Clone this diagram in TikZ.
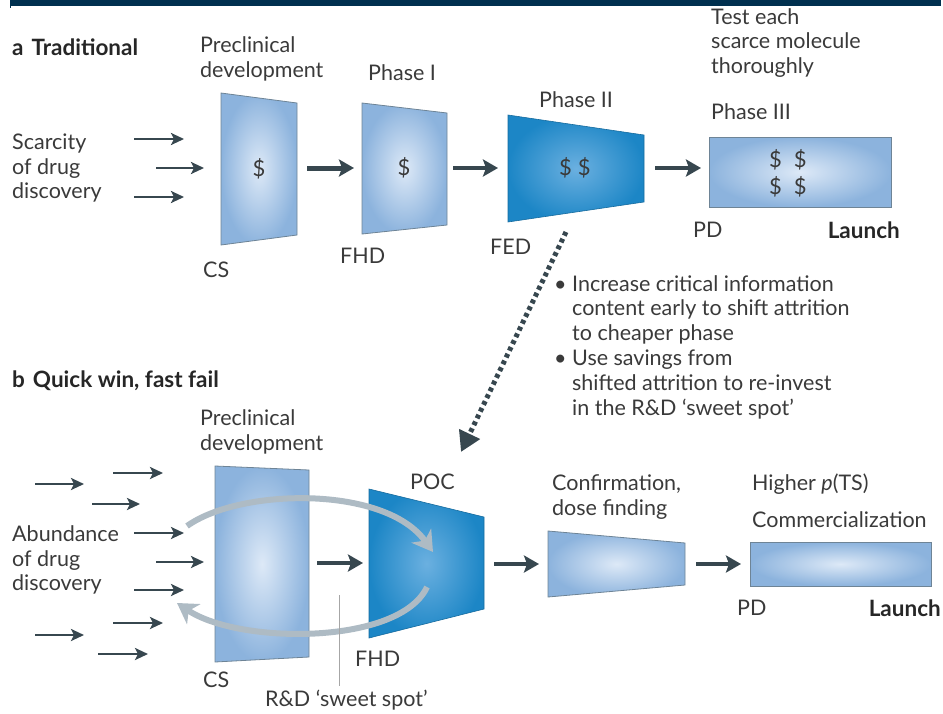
\documentclass[tikz,border=0pt]{standalone}
\usepackage{fontspec}
\setmainfont{Lato}
\usetikzlibrary{arrows.meta}
\definecolor{navy}{HTML}{00304F}
\definecolor{arr}{HTML}{37474F}
\definecolor{txt}{HTML}{3A3A3A}
\definecolor{lbIn}{HTML}{DDE9F7}
\definecolor{lbOut}{HTML}{8CB3DD}
\definecolor{dbIn}{HTML}{6BB0E0}
\definecolor{dbOut}{HTML}{1C86C6}
\definecolor{edgec}{HTML}{6E8496}
\definecolor{loopc}{HTML}{AEBBC4}
\tikzset{
  lbl/.style={inner sep=0pt, font=\fontsize{21.5}{24.8}\selectfont, text=txt, align=left},
  blbl/.style={lbl, font=\fontsize{22.5}{24.8}\selectfont\bfseries, text=black!85},
  dollar/.style={inner sep=0pt, font=\fontsize{22}{27}\selectfont, text=txt, align=center},
  sarrow/.style={draw=arr, line width=2.6pt, -{Stealth[length=13pt,width=12pt,inset=3pt]}},
  tarrow/.style={draw=arr, line width=5pt, -{Stealth[length=15pt,width=17pt,inset=3pt]}},
  lightbox/.style={inner color=lbIn, outer color=lbOut, draw=edgec, line width=0.8pt},
  darkbox/.style={inner color=dbIn, outer color=dbOut, draw=dbOut!80!black, line width=0.6pt},
  loopar/.style={draw=loopc, line width=6pt, -{Stealth[length=20pt,width=24pt,inset=6pt]}},
  dotar/.style={draw=arr, line width=5pt, dash pattern=on 4pt off 3.5pt, -{Triangle[length=20pt,width=22pt]}}
}
\begin{document}
\begin{tikzpicture}[x=1pt,y=-1pt]
\useasboundingbox (0,0) rectangle (943,713);
% top bar
\fill[navy] (10,0) rectangle (941,6);
\draw[navy, line width=0.8pt] (10,0) -- (10,8);

% ===== a =====
\node[blbl, anchor=west] (ta) at (12,47) {a\hspace{8pt}Traditional};
\node[lbl, anchor=west] (scar) at (12,168) {Scarcity\\of drug\\discovery};
\node[lbl, anchor=west] (prea) at (200,59) {Preclinical\\development};
\node[lbl, anchor=west] (ph1) at (368,73) {Phase I};
\node[lbl, anchor=west] (ph2) at (539,100) {Phase II};
\node[lbl, anchor=west] (test) at (711,43) {Test each\\scarce molecule\\thoroughly};
\node[lbl, anchor=west] (ph3) at (711,112) {Phase III};

\coordinate (a1s) at (134,139); \coordinate (a1e) at (184,139);
\coordinate (a2s) at (156,168); \coordinate (a2e) at (204,168);
\coordinate (a3s) at (134,197); \coordinate (a3e) at (184,197);
\draw[sarrow] (a1s) -- (a1e);
\draw[sarrow] (a2s) -- (a2e);
\draw[sarrow] (a3s) -- (a3e);

\shadedraw[lightbox] (221,93) -- (297,103) -- (297,235) -- (221,245) -- cycle;
\node[dollar] (preaC) at (259,169) {\$};
\shadedraw[lightbox] (362,103) -- (447,113) -- (447,225) -- (362,234) -- cycle;
\node[dollar] (ph1C) at (404,168) {\$};
\shadedraw[darkbox] (508,115) -- (644,135) -- (644,202) -- (508,222) -- cycle;
\node[dollar] (ph2C) at (575,168) {\$\hspace{6pt}\$};
\shadedraw[lightbox] (709,137) rectangle (891,207);
\node[dollar, align=center] (ph3C) at (788,173) {\$\hspace{12pt}\$\\\$\hspace{12pt}\$};

\coordinate (b1s) at (307,168); \coordinate (b1e) at (354,168);
\coordinate (b2s) at (453,168); \coordinate (b2e) at (498,168);
\coordinate (b3s) at (655,168); \coordinate (b3e) at (701,168);
\draw[tarrow] (b1s) -- (b1e);
\draw[tarrow, line width=4.5pt] (b2s) -- (b2e);
\draw[tarrow, line width=4.5pt] (b3s) -- (b3e);

\node[lbl, anchor=west] (csa) at (203,270) {CS};
\node[lbl, anchor=west] (fhda) at (340,256) {FHD};
\node[lbl, anchor=west] (fed) at (490,247) {FED};
\node[lbl, anchor=west] (pda) at (693,230) {PD};
\node[blbl, anchor=east] (la) at (900,230) {Launch};

% dotted arrow
\coordinate (ds) at (566,232); \coordinate (de) at (461,452);
\draw[dotar] (ds) -- (de);

\node[lbl, anchor=west] (bul) at (554,347) {%
\textbullet\ Increase critical information\\
\phantom{\textbullet\ }content early to shift attrition\\
\phantom{\textbullet\ }to cheaper phase\\
\textbullet\ Use savings from\\
\phantom{\textbullet\ }shifted attrition to re-invest\\
\phantom{\textbullet\ }in the R\&D ‘sweet spot’};

% ===== b =====
\node[blbl, anchor=west] (tb) at (12,381) {b\hspace{8pt}Quick win, fast fail};
\node[lbl, anchor=west] (preb) at (200,432) {Preclinical\\development};
\node[lbl, anchor=west] (abund) at (12,560) {Abundance\\of drug\\discovery};

\coordinate (c1s) at (35,484);  \coordinate (c1e) at (84,484);
\coordinate (c2s) at (113,473); \coordinate (c2e) at (163,473);
\coordinate (c3s) at (92,504);  \coordinate (c3e) at (140,504);
\coordinate (c4s) at (134,533); \coordinate (c4e) at (184,533);
\coordinate (c5s) at (156,562); \coordinate (c5e) at (204,562);
\coordinate (c6s) at (134,590); \coordinate (c6e) at (184,590);
\coordinate (c7s) at (113,623); \coordinate (c7e) at (163,623);
\coordinate (c8s) at (35,635);  \coordinate (c8e) at (84,635);
\coordinate (c9s) at (98,654);  \coordinate (c9e) at (148,654);
\foreach \i in {1,...,9} {\draw[sarrow] (c\i s) -- (c\i e);}

\shadedraw[lightbox] (215,466) -- (309,470) -- (309,657) -- (215,662) -- cycle;
\coordinate (prebC) at (262,564);
\shadedraw[darkbox] (369,489) -- (484,517) -- (484,609) -- (369,638) -- cycle;
\coordinate (pocC) at (426,563);
\shadedraw[lightbox] (548,531) -- (685,543) -- (685,585) -- (548,597) -- cycle;
\coordinate (confC) at (616,564);
\shadedraw[lightbox] (750,542) rectangle (931,586);
\coordinate (commC) at (840,564);

\coordinate (d1s) at (317,563); \coordinate (d1e) at (363,563);
\coordinate (d2s) at (494,564); \coordinate (d2e) at (539,564);
\coordinate (d3s) at (696,564); \coordinate (d3e) at (741,564);
\draw[tarrow, line width=4.5pt] (d1s) -- (d1e);
\draw[tarrow, line width=4.5pt] (d2s) -- (d2e);
\draw[tarrow, line width=4.5pt] (d3s) -- (d3e);

% grey loop arrows
\coordinate (l1s) at (187,526); \coordinate (l1e) at (433,552);
\coordinate (l2s) at (427,587); \coordinate (l2e) at (177,603);
\draw[loopar] (l1s) .. controls (240,488) and (385,485) .. (l1e);
\draw[loopar] (l2s) .. controls (400,645) and (240,645) .. (l2e);

\node[lbl, anchor=west] (poc) at (410,482) {POC};
\node[lbl, anchor=west] (conf) at (552,497) {Confirmation,\\dose finding};
\node[lbl, anchor=west] (hp) at (752,484) {Higher \textit{p}(TS)};
\node[lbl, anchor=west] (comm) at (752,520) {Commercialization};

\node[lbl, anchor=west] (csb) at (203,680) {CS};
\node[lbl, anchor=west] (fhdb) at (355,659) {FHD};
\coordinate (vtop) at (339,595); \coordinate (vbot) at (339,686);
\draw[gray!70, line width=1pt] (vtop) -- (vbot);
\node[lbl, anchor=west] (sweet) at (265,700) {R\&D ‘sweet spot’};
\node[lbl, anchor=west] (pdb) at (737,608) {PD};
\node[blbl, anchor=east] (lb) at (941,608) {Launch};
\end{tikzpicture}
\end{document}
